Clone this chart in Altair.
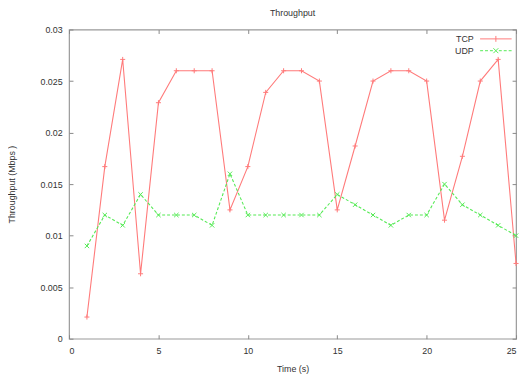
import altair as alt
import pandas as pd

# ---- data ----
time = list(range(1, 26))
tcp = [0.0021, 0.0167, 0.0271, 0.0063, 0.0229, 0.0260, 0.0260, 0.0260, 0.0125, 0.0167,
       0.0239, 0.0260, 0.0260, 0.0250, 0.0125, 0.0187, 0.0250, 0.0260, 0.0260, 0.0250,
       0.0115, 0.0177, 0.0250, 0.0271, 0.0073]
udp = [0.0090, 0.0120, 0.0110, 0.0140, 0.0120, 0.0120, 0.0120, 0.0110, 0.0160, 0.0120,
       0.0120, 0.0120, 0.0120, 0.0120, 0.0140, 0.0130, 0.0120, 0.0110, 0.0120, 0.0120,
       0.0150, 0.0130, 0.0120, 0.0110, 0.0100]
series_names = ["TCP", "UDP"]
x_ticks = [0, 5, 10, 15, 20, 25]
y_ticks = [0, 0.005, 0.01, 0.015, 0.02, 0.025, 0.03]

df = pd.DataFrame({
    "time": time + time,
    "value": tcp + udp,
    "series": ["TCP"] * len(time) + ["UDP"] * len(time),
})

FONT = "Liberation Sans"
TXT = "#333333"
RED = "#ff7a7a"
GREEN = "#55ea55"

xs = alt.Scale(domain=[0, 25], nice=False)
ys = alt.Scale(domain=[0, 0.03], nice=False)
cs = alt.Scale(domain=series_names, range=[RED, GREEN])

common = dict(domain=False, grid=False, tickColor="#888888", tickSize=4, offset=-4,
              labelFont=FONT, labelFontSize=9, labelColor=TXT,
              titleFont=FONT, titleFontSize=9, titleColor=TXT, titleFontWeight="normal")

x_bottom = alt.Axis(orient="bottom", values=x_ticks, title="Time (s)", labelPadding=8,
                    titlePadding=9, titleAnchor="middle", **common)
y_left = alt.Axis(orient="left", values=y_ticks, format="~g", title="Throughput (Mbps )",
                  labelPadding=7, titlePadding=24, **common)
x_top = alt.Axis(orient="top", values=x_ticks, labels=False, title=None, **common)
y_right = alt.Axis(orient="right", values=y_ticks, labels=False, title=None, **common)

base = alt.Chart(df)
tcp_data = base.transform_filter("datum.series == 'TCP'")
udp_data = base.transform_filter("datum.series == 'UDP'")

X0 = alt.X("time:Q", scale=xs, axis=None)
Y0 = alt.Y("value:Q", scale=ys, axis=None)

line_tcp = tcp_data.mark_line(strokeWidth=1.1, color=RED).encode(
    x=alt.X("time:Q", scale=xs, axis=x_bottom),
    y=alt.Y("value:Q", scale=ys, axis=y_left),
)
line_udp = udp_data.mark_line(strokeWidth=1.1, color=GREEN, strokeDash=[3, 2]).encode(x=X0, y=Y0)

pts_tcp = tcp_data.mark_point(
    shape="M-1,0H1M0,-1V1", size=26, filled=False, strokeWidth=1, color=RED, opacity=1
).encode(x=X0, y=Y0)
pts_udp = udp_data.mark_point(
    shape="M-1,-1L1,1M-1,1L1,-1", size=20, filled=False, strokeWidth=1, color=GREEN, opacity=1
).encode(x=X0, y=Y0)

mirror = base.mark_point(opacity=0).encode(
    x=alt.X("time:Q", scale=xs, axis=x_top),
    y=alt.Y("value:Q", scale=ys, axis=y_right),
)

# legend glyphs drawn to the right of the symbol anchor so the label sits left of them
TCP_SYM = "M2.4,0L8.8,0M5.6,-0.6L5.6,0.6"
UDP_SYM = ("M2.4,0L3.0,0M3.4,0L4.0,0M4.4,0L5.0,0M6.2,0L6.8,0M7.2,0L7.8,0M8.2,0L8.8,0"
           "M5.1,-0.5L6.1,0.5M5.1,0.5L6.1,-0.5")

leg = alt.Legend(title=None, orient="none", legendX=400, legendY=4,
                 labelFont=FONT, labelFontSize=9, labelColor=TXT,
                 labelAlign="right", labelOffset=0, symbolOffset=0,
                 symbolStrokeWidth=1, symbolOpacity=1, symbolSize=100, rowPadding=1)

legend_layer = base.mark_point(filled=False, size=100, strokeWidth=1, opacity=0).encode(
    x=X0, y=Y0,
    color=alt.Color("series:N", scale=cs, legend=leg),
    shape=alt.Shape("series:N", scale=alt.Scale(domain=series_names, range=[TCP_SYM, UDP_SYM]), legend=leg),
)

chart = alt.layer(line_tcp, line_udp, pts_tcp, pts_udp, legend_layer, mirror).resolve_axis(
    x="independent", y="independent"
).properties(
    width=454, height=314,
    padding={"left": 62, "top": 19, "right": 3, "bottom": 34},
    autosize=alt.AutoSizeParams(type="none"),
    title=alt.TitleParams("Throughput", font=FONT, fontSize=9, fontWeight="normal",
                          color=TXT, anchor="middle", offset=8),
).configure_view(stroke="#999999", strokeWidth=1.2)

chart.save("out.html", embed_options={"renderer": "svg", "actions": False})
